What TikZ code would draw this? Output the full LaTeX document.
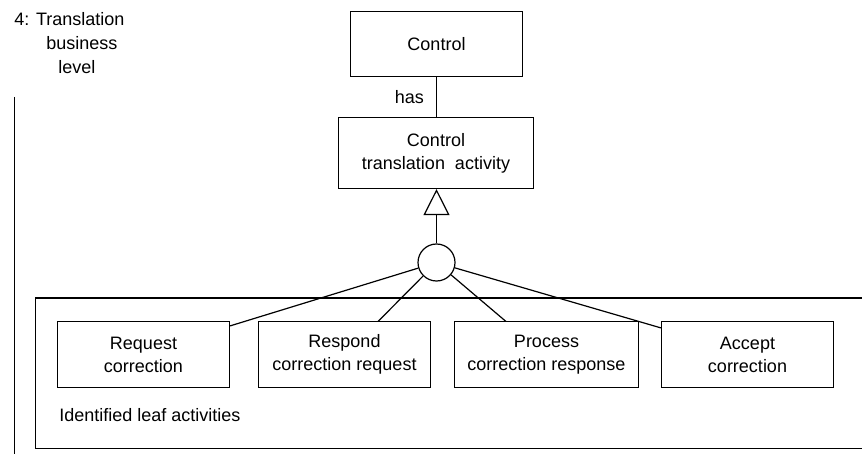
\documentclass[tikz,border=0pt]{standalone}
\usepackage{fontspec}
\setmainfont{Liberation Sans}
\usetikzlibrary{arrows.meta,calc}
\begin{document}
\begin{tikzpicture}[x=0.5pt,y=-0.5pt,
  every node/.style={font=\fontsize{9}{11.5}\selectfont},
  line/.style={line width=0.6pt,draw=black},
  box/.style={line,rectangle,align=center,inner sep=0pt},
  leaf/.style={box,minimum width=86pt,minimum height=33pt},
  lbl/.style={inner sep=0pt,align=left}]
\useasboundingbox (0,0) rectangle (862,454);

% level caption and its margin rule
\node[lbl,anchor=north west,font=\fontsize{9}{12}\selectfont] (caption) at (14,12)
  {4: Translation\\\hspace*{16pt}business\\\hspace*{22pt}level};
\coordinate (ruletop) at (14.5,97);
\coordinate (rulebot) at (14.5,454);
\draw[line] (ruletop) -- (rulebot);

% upper classes
\node[box,minimum width=86pt,minimum height=32.5pt] (control) at (436.5,44) {Control};
\node[box,minimum width=97.5pt,minimum height=35.5pt] (cta) at (436,153)
  {Control\\translation~ activity};
\draw[line] (control.south) -- node[left,inner sep=0pt,xshift=-6pt] (has) {has} (control.south |- cta.north);

% container of the leaf activities
\node[line,rectangle,anchor=north west,minimum width=420pt,minimum height=75pt,inner sep=0pt]
  (group) at (34.5,297.5) {};
\node[lbl,anchor=west] (grouplbl) at (59,415) {Identified leaf activities};

% leaf activities
\node[leaf] (req)  at (143.5,354.5) {Request\\correction};
\node[leaf] (resp) at (344.5,354.5) {Respond\\correction request};
\node[leaf,minimum width=92pt] (proc) at (546.5,354.5) {Process\\correction response};
\node[leaf] (acc)  at (747.5,354.5) {Accept\\correction};

% specialisation junction
\node[line,circle,minimum size=18.5pt,inner sep=0pt] (junc) at (436.5,262.5) {};
\draw[line,-{Triangle[open,length=13pt,width=13pt]}] (junc.north) -- (cta.south -| junc.north);

\coordinate (reqend)  at ($(req.north east)+(0,5)$);
\coordinate (respend) at (378,321.5);
\coordinate (procend) at (506,321.5);
\coordinate (accend)  at ($(acc.north west)+(0,7)$);
\draw[line] (junc) -- (reqend);
\draw[line] (junc) -- (respend);
\draw[line] (junc) -- (procend);
\draw[line] (junc) -- (accend);
\end{tikzpicture}
\end{document}
